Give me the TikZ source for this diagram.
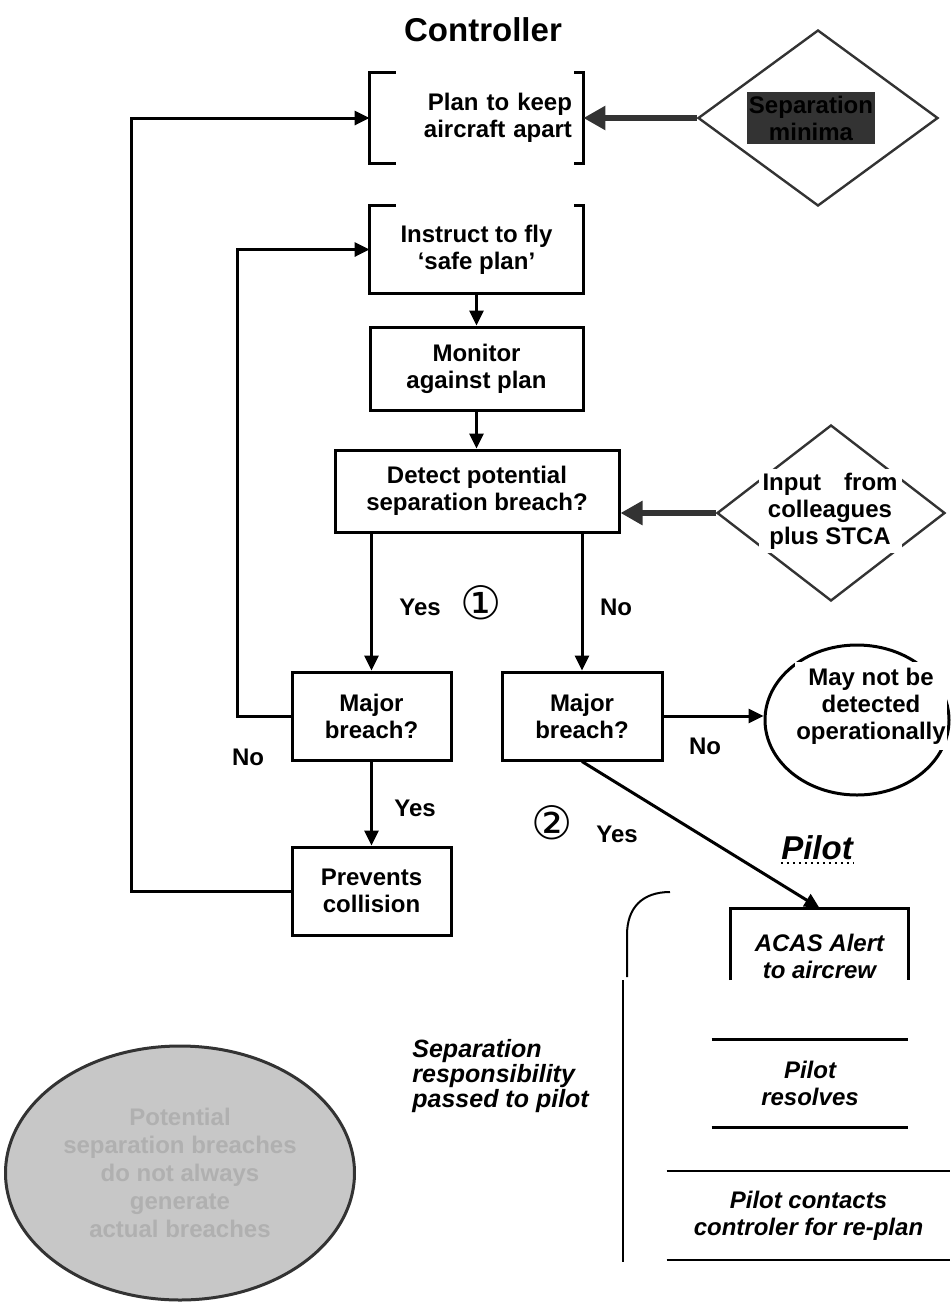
\documentclass[tikz,border=0pt]{standalone}
\usepackage{fontspec}
\setmainfont{Liberation Sans}
\newfontfamily\circfont{DejaVu Sans}
\usetikzlibrary{shapes.geometric,arrows.meta}

\begin{document}
\begin{tikzpicture}[x=0.5pt,y=-0.5pt,
	every node/.style={font=\bfseries\fontsize{12}{13.5}\selectfont, align=center},
	box/.style={draw, line width=1.5pt, inner sep=0pt},
	arr/.style={line width=1.5pt, -{Triangle[length=7.5pt,width=7pt]}},
	fat/.style={line width=3pt, draw=black!80, -{Triangle[length=11pt,width=11.5pt]}},
	dia/.style={diamond, draw=black!80, line width=1.2pt, minimum width=114pt, minimum height=88pt, inner sep=0pt},
	pil/.style={font=\bfseries\itshape\fontsize{12}{13.5}\selectfont}]
		\useasboundingbox (0,0) rectangle (950,1302);
		
		\node (ctl) at (483,30) {\fontsize{16.5}{18}\selectfont Controller};
		
		\node[minimum width=106.5pt, minimum height=45pt, text width=95.5pt, align=right, inner xsep=5.5pt] (plan) at (476.5,118) {Plan to keep\\aircraft apart};
		\draw[line width=1.5pt] ([xshift=13pt]plan.north west) -- (plan.north west) -- (plan.south west) -- ([xshift=13pt]plan.south west);
		\draw[line width=1.5pt] ([xshift=-4.5pt]plan.north east) -- (plan.north east) -- (plan.south east) -- ([xshift=-4.5pt]plan.south east);
		
		\node[minimum width=106.5pt, minimum height=43.5pt] (inst) at (476.5,249.5) {Instruct to fly\\‘safe plan’};
		\draw[line width=1.5pt] ([xshift=13pt]inst.north west) -- (inst.north west) -- (inst.south west) -- (inst.south east) -- (inst.north east) -- ([xshift=-4.5pt]inst.north east);
		
		\node[box, minimum width=106.5pt, minimum height=41.5pt] (mon) at (476.5,368.5) {Monitor\\against plan};
		\node[box, minimum width=142pt, minimum height=41pt] (det) at (477,491) {Detect potential\\separation breach?};
		\node[box, minimum width=79.5pt, minimum height=44pt] (majL) at (371.5,716) {Major\\breach?};
		\node[box, minimum width=80pt, minimum height=44pt] (majR) at (582,716) {Major\\breach?};
		\node[box, minimum width=79.5pt, minimum height=44pt] (prev) at (371.5,891) {Prevents\\collision};
		
		% inputs
		\node[dia, minimum width=120pt] (sepmin) at (818,118) {};
		\node[fill=black!80, inner xsep=1pt, inner ysep=2pt, minimum width=64pt, minimum height=25pt] (sepbox) at (811,118) {Separation\\minima};
		\node[dia] (inp) at (831,513) {};
		\node[fill=white, inner sep=2pt] (inptxt) at (830,511) {\makebox[67.5pt][s]{Input\hfill from}\\colleagues\\plus STCA};
		
		\draw[fat] (sepmin.west) -- (sepmin.west -| plan.east);
		\draw[fat] (inp.west) -- (inp.west -| det.east);
		
		\node[ellipse, draw, line width=1.5pt, minimum width=92pt, minimum height=75pt] (may) at (857,720) {};
		\node[fill=white, inner xsep=0.5pt, inner ysep=3pt] (maytxt) at (871,706) {May not be\\detected\\operationally};
		
		% pilot side
		\node[pil, font=\bfseries\itshape\fontsize{16.5}{18}\selectfont, inner xsep=0pt] (pilot) at (817,848) {Pilot};
		\draw[dotted, line width=1pt] ([yshift=-1.5pt]pilot.base west) -- ([yshift=-1.5pt]pilot.base east);
		
		\node[pil, minimum width=88.5pt, minimum height=48pt, anchor=north] (acas) at (819.5,908) {ACAS Alert\\to aircrew};
		\draw[line width=1.5pt] (acas.north west) ++(0,72) -- (acas.north west) -- (acas.north east) -- ++(0,72);
		
		\node[pil, minimum width=98pt, minimum height=43.5pt] (res) at (810,1083.5) {Pilot\\resolves};
		\draw[line width=1.5pt] (res.north west) -- (res.north east);
		\draw[line width=1.5pt] (res.south west) -- (res.south east);
		
		\node[pil, minimum width=141.5pt, minimum height=44.5pt] (cont) at (808.5,1215.5) {Pilot contacts\\controler for re-plan};
		\draw[line width=1pt] (cont.north west) -- (cont.north east);
		\draw[line width=1pt] (cont.south west) -- (cont.south east);
		
		\draw[line width=1pt] (670,892) .. controls (642,892) and (627,908) .. (627,935) -- (627,977);
		\draw[line width=1pt] (623,980) -- (623,1262);
		
		\node[pil, font=\bfseries\itshape\fontsize{12.5}{11}\selectfont, anchor=west, align=left, inner sep=0pt] (resp) at (412,1076) {Separation\\responsibility\\passed to pilot};
		
		\node[ellipse, draw=black!80, line width=1.5pt, fill=black!22, minimum width=168pt, minimum height=127pt, text=black!31, font=\bfseries\fontsize{12}{14}\selectfont] (pot) at (180,1173) {Potential\\separation breaches\\do not always\\generate\\actual breaches};
		
		% connectors
		\draw[arr] (inst.south) -- (mon.north);
		\draw[arr] (mon.south) -- (mon.south |- det.north);
		\draw[arr] (majL.north |- det.south) -- (majL.north);
		\draw[arr] (majR.north |- det.south) -- (majR.north);
		\draw[arr] (majL.south) -- (prev.north);
		\draw[arr] (majR.east) -- (majR.east -| may.west);
		\draw[arr] (majR.south) -- (acas.north);
		\draw[arr] (majL.west) -- ++(-53,0) |- (inst.west);
		\draw[arr] (prev.west) -- ++(-159,0) |- (plan.west);
		
		\node (yes1) at (420,607) {Yes};
		\node (one) at (481,603) {\circfont\mdseries\fontsize{23}{24}\selectfont ①};
		\node (no1) at (616,607) {No};
		\node (no0) at (248,757) {No};
		\node (yes2) at (415,808) {Yes};
		\node (no2) at (705,746) {No};
		\node (two) at (552,823) {\circfont\mdseries\fontsize{23}{24}\selectfont ②};
		\node (yes3) at (617,834) {Yes};
		
	\end{tikzpicture}
\end{document}
